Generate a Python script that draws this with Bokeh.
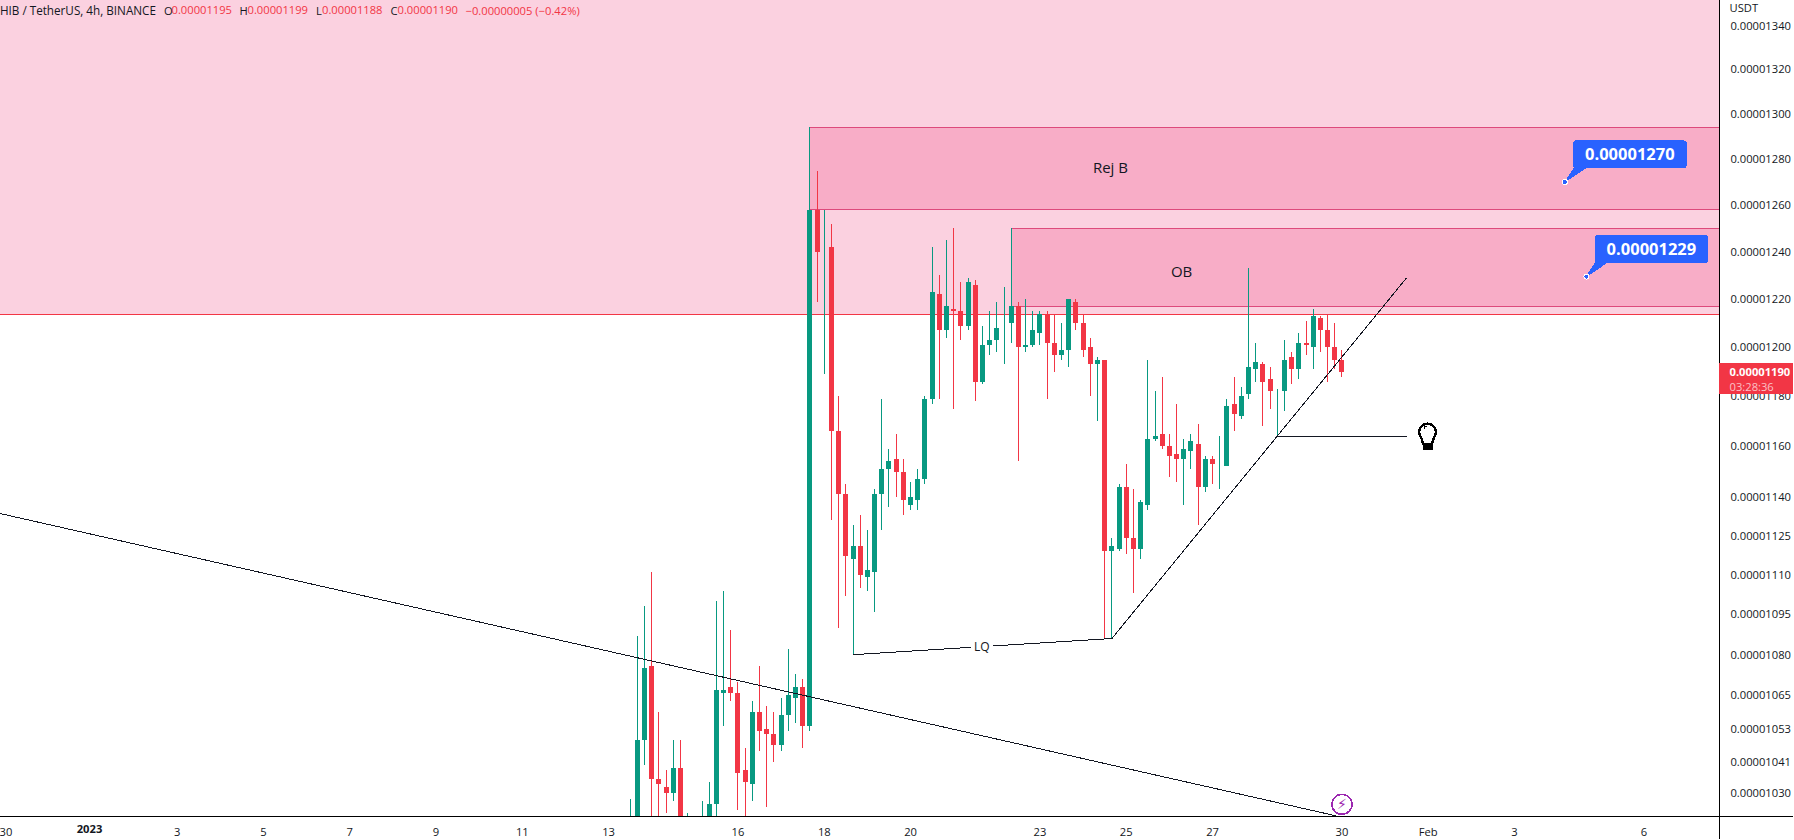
import numpy as np
from bokeh.plotting import figure
from bokeh.embed import file_html
from bokeh.resources import INLINE
from bokeh.core.properties import value
from bokeh.models import (Range1d, FixedTicker, Label, BoxAnnotation, ColumnDataSource)

# prices are in units of 0.00000001 USDT; candle index = 4h bars since 1 Jan 2023
candle_k = list(range(75, 175))
opens = [1012,1020,1049,1076,1035,1032,1030,1039,1015,1012,1016,1018,1026,1066,1068,1066,1038,1033,1059,1053,
         1051,1047,1058,1064,1068,1054,1258,1240,1242,1166,1141,1116,1121,1109,1111,1141,1151,1155,1150,1137,
         1139,1147,1179,1222,1207,1216,1215,1209,1226,1186,1201,1203,1209,1210,1217,1200,1201,1206,1214,1202,
         1197,1199,1219,1210,1200,1193,1195,1119,1120,1144,1124,1120,1137,1163,1165,1160,1157,1155,1158,1161,
         1144,1155,1153,1152,1177,1172,1181,1191,1193,1187,1181,1182,1196,1191,1202,1200,1212,1207,1200,1195]
highs = [1028,1087,1098,1111,1059,1038,1049,1049,1023,1020,1027,1034,1100,1104,1089,1070,1046,1063,1076,1061,
         1059,1064,1082,1073,1071,1294,1275,1258,1252,1180,1145,1129,1133,1127,1143,1179,1159,1165,1155,1146,
         1151,1180,1242,1230,1245,1250,1227,1229,1228,1209,1215,1219,1225,1250,1219,1220,1215,1215,1215,1214,
         1210,1220,1220,1214,1204,1196,1195,1124,1145,1153,1143,1139,1195,1182,1188,1165,1177,1163,1165,1169,
         1156,1156,1164,1179,1188,1184,1233,1202,1194,1192,1183,1203,1198,1206,1211,1216,1213,1214,1210,1199]
lows = [1010,1015,1040,1020,1020,1023,1027,1015,1012,1010,1012,1015,1018,1054,1063,1024,1020,1027,1045,1025,
        1041,1045,1052,1055,1046,1052,1219,1189,1131,1090,1102,1080,1105,1104,1096,1127,1136,1140,1133,1135,
        1135,1145,1177,1179,1204,1175,1203,1207,1178,1185,1197,1198,1193,1202,1154,1198,1200,1201,1179,1190,
        1195,1192,1207,1196,1180,1170,1086,1086,1119,1118,1103,1116,1135,1162,1159,1148,1146,1137,1151,1129,
        1142,1145,1143,1152,1166,1171,1179,1186,1168,1175,1164,1174,1185,1187,1197,1191,1198,1186,1191,1188]
closes = [1018,1049,1075,1035,1033,1030,1039,1020,1020,1018,1022,1026,1067,1067,1066,1037,1034,1059,1052,1051,
          1047,1058,1065,1068,1054,1258,1240,1240,1166,1141,1117,1121,1110,1112,1141,1151,1154,1150,1139,1140,
          1147,1179,1223,1207,1217,1215,1209,1227,1186,1201,1203,1208,1209,1217,1200,1201,1207,1214,1202,1197,
          1199,1220,1210,1199,1193,1195,1119,1121,1144,1124,1120,1138,1163,1164,1160,1156,1155,1159,1162,1144,
          1155,1153,1153,1176,1173,1180,1192,1194,1186,1182,1181,1195,1191,1202,1201,1213,1207,1200,1195,1190]

y_ticks = [1340,1320,1300,1280,1260,1240,1220,1200,1180,1160,1140,1125,1110,1095,1080,1065,1053,1041,1030]
y_labels = ["0.0000%d" % t for t in y_ticks]
x_ticks = [-12, 0, 12, 24, 36, 48, 60, 72, 90, 102, 114, 132, 144, 156, 174, 186, 198, 216]
x_labels = ["30", "", "3", "5", "7", "9", "11", "13", "16", "18", "20", "23", "25", "27", "30", "Feb", "3", "6"]

zone_k = [100, 128]
zone_top = [1294, 1250]
zone_bot = [1258, 1217]
zone_names = ["Rej B", "OB"]
zone_name_k = [141.8, 151.7]
zone_name_p = [1276.4, 1232]
resist_price = 1213.7
down_k = [-12.7, 173.1]
down_p = [1133.6, 1022]
lq_k = [106, 142]
lq_p = [1080, 1086]
up_k = [142, 183]
up_p = [1086, 1229]
flat_k = [165, 183]
flat_p = [1164, 1164]
call_k = [205, 208]
call_p = [1270, 1229.5]
call_text = ["0.00001270", "0.00001229"]

UP, DOWN = "#089981", "#f23645"
INK = "#131722"
FONT = "Open Sans"
X0, XEND = -12.71, 236.8      # whole picture width
XAX = 226.5                   # price axis position
P0, P1 = 1013.7, 1352.0       # whole picture height
PAX = 1021.8                  # time axis position
W, H = 1794, 840
PXK = W / (XEND - X0)
PXL = H / np.log(P1 / P0)

def ox(k, dx):
    return k + np.asarray(dx, float) / PXK
def oy(pr, dy):
    return pr * np.exp(-np.asarray(dy, float) / PXL)

p = figure(width=W, height=H, output_backend="svg", toolbar_location=None,
           x_range=Range1d(X0, XEND), y_range=Range1d(P0, P1), y_axis_type="log",
           y_axis_location="right", margin=(-1, -1, -1, -1),
           min_border_left=0, min_border_top=0, min_border_right=0, min_border_bottom=0)
p.outline_line_color = None
p.grid.visible = False
p.stylesheets = [":host{shape-rendering:crispEdges}"]

ya = p.yaxis[0]
ya.fixed_location = XAX
ya.ticker = FixedTicker(ticks=y_ticks)
ya.major_label_overrides = dict(zip(y_ticks, y_labels))
ya.major_tick_line_color = None
ya.minor_tick_line_color = None
ya.axis_line_color = "#000000"
ya.major_label_standoff = 5
ya.major_label_text_font = FONT
ya.major_label_text_font_size = "11.2px"
ya.major_label_text_color = INK

xa = p.xaxis[0]
xa.fixed_location = PAX
xa.ticker = FixedTicker(ticks=x_ticks)
xa.major_label_overrides = dict(zip(x_ticks, x_labels))
xa.major_tick_line_color = None
xa.minor_tick_line_color = None
xa.axis_line_color = "#000000"
xa.major_label_standoff = 2
xa.major_label_text_font = FONT
xa.major_label_text_font_size = "11.2px"
xa.major_label_text_color = INK

# zones
p.quad(left=[X0], right=[XAX], top=[P1 * 1.1], bottom=[resist_price], fill_color="#fbd1e0", line_color=None)
p.quad(left=zone_k, right=[XAX] * 2, top=zone_top, bottom=zone_bot,
       fill_color="#f8adc7", line_color="#dd4a7c", line_width=1)
p.line([X0, XAX], [resist_price] * 2, line_color=DOWN, line_width=1)
p.text(zone_name_k, zone_name_p, text=zone_names, text_font=value(FONT), text_font_size="15px",
       text_color=INK, text_align="center", text_baseline="middle")

# candles
src = ColumnDataSource(dict(k=candle_k, o=opens, h=highs, l=lows, c=closes,
                            col=[UP if c >= o else DOWN for o, c in zip(opens, closes)],
                            top=[max(o, c) for o, c in zip(opens, closes)],
                            bot=[min(o, c) for o, c in zip(opens, closes)]))
p.segment("k", "l", "k", "h", source=src, line_color="col", line_width=1)
p.vbar("k", width=5 / PXK, top="top", bottom="bot", source=src, fill_color="col", line_color=None)

# drawings
for xs, ys in [(down_k, down_p), (lq_k, lq_p), (up_k, up_p), (flat_k, flat_p)]:
    p.line(xs, ys, line_color=INK, line_width=1)

# the strip under the time axis hides whatever falls below the plot area
p.quad(left=[X0], right=[XEND], top=[PAX], bottom=[P0], fill_color="#ffffff", line_color=None)

p.add_layout(Label(x=123.9, y=1083, text="LQ", text_font=FONT, text_font_size="12px", text_color=INK,
                   text_align="center", text_baseline="middle", background_fill_color="#ffffff", padding=(3, 0)))

# callouts
for k, pr, t in zip(call_k, call_p, call_text):
    p.patch(ox(k, [0, 10, 22]), oy(pr, [0, -15, -15]), fill_color="#2962ff", line_color="#2962ff", line_width=1)
    p.scatter([k], [pr], size=5, fill_color="#2962ff", line_color="#ffffff", line_width=1)
    p.add_layout(Label(x=k, y=pr, x_offset=65, y_offset=27.6, text=t, text_font=FONT, text_font_style="bold",
                       text_font_size="16.5px", text_color="#ffffff", text_align="center", text_baseline="middle",
                       background_fill_color="#2962ff", border_radius=3, padding=(12, 8)))

# bulb
bk, bp = 185.9, 1165.7
a = np.radians(np.linspace(-40, 220, 40))
bx = list(8.3 * np.cos(a)) + [-4.5, 4.5]
by = list(-8.3 * np.sin(a)) + [12, 12]
bx.append(bx[0]); by.append(by[0])
p.line(ox(bk, bx), oy(bp, by), line_color="#000000", line_width=2.4)
p.quad(left=[ox(bk, -5)], right=[ox(bk, 5)], top=[oy(bp, 13)], bottom=[oy(bp, 18)],
       fill_color="#000000", line_color=None)
p.line(ox(bk, [-3.7, -3, 0]), oy(bp, [-2.7, -5, -6]), line_color="#000000", line_width=1)

# lightning mark
p.scatter([174], [1026], size=20, fill_color=None, line_color="#9c27b0", line_width=1.6)
p.text([174], [1026], text=["\u26a1"], text_font=value("DejaVu Sans"), text_font_size="14px",
       text_color="#9c27b0", text_align="center", text_baseline="middle")

# screen-placed items: y counted down from the top of the page
def label(x, y, text, color=INK, size="11.2px", style="normal", align="left"):
    p.add_layout(Label(x=x, y=H - y, x_units="screen", y_units="screen", text=text, text_font=FONT,
                       text_font_size=size, text_font_style=style, text_color=color,
                       text_align=align, text_baseline="middle", level="overlay"))

label(-6, 10.5, "SHIB / TetherUS, 4h, BINANCE", size="11.7px")
for x, t, col in [(164.5, "O", INK), (172, "0.00001195", DOWN), (240, "H", INK), (248, "0.00001199", DOWN),
                  (316.5, "L", INK), (322.5, "0.00001188", DOWN), (391, "C", INK), (398, "0.00001190", DOWN),
                  (466, "\u22120.00000005 (\u22120.42%)", DOWN)]:
    label(x, 10.5, t, col)
label(90, 829, "2023", style="bold", align="center")
label(1730, 8, "USDT")

p.add_layout(BoxAnnotation(left=XAX, right=XEND, top=oy(1280, 364 - 159.7), bottom=oy(1280, 395 - 159.7),
                           fill_color=DOWN, fill_alpha=1, line_color=None, level="annotation"))
label(1730, 372.7, "0.00001190", "#ffffff", style="bold")
label(1730, 386.7, "03:28:36", "#fbc0c6")

open("out.html", "w").write(file_html(p, INLINE))
